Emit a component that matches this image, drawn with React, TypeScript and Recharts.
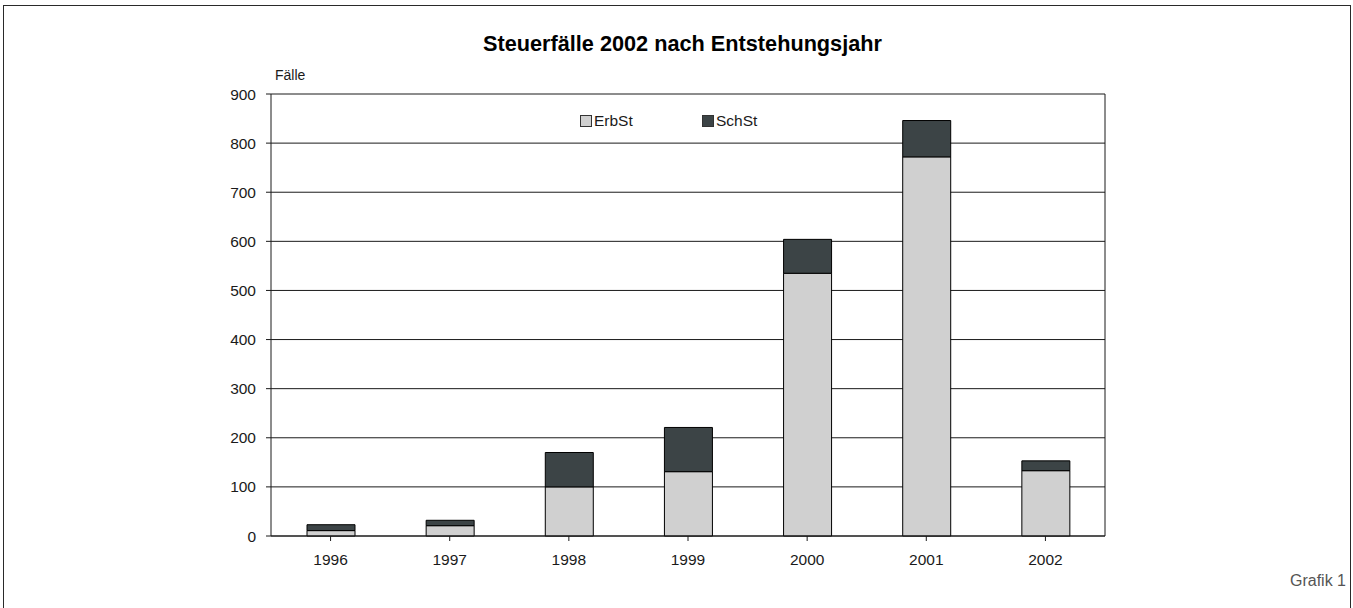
import { Bar, BarChart, CartesianGrid, XAxis, YAxis } from "recharts";

const years = ["1996", "1997", "1998", "1999", "2000", "2001", "2002"];
const erbSt = [11, 21, 100, 131, 535, 772, 133];
const schSt = [12, 11, 70, 90, 69, 74, 20];
const yTicks = [0, 100, 200, 300, 400, 500, 600, 700, 800, 900];

const INK = "#1a1a1a";
const FONT = "'Liberation Sans', Arial, sans-serif";
const ERB = "#d0d0d0";
const SCH = "#3c4446";

const data = years.map((year, i) => ({ year, ErbSt: erbSt[i], SchSt: schSt[i] }));

const legendItems = [
  { label: "ErbSt", color: ERB, left: 580 },
  { label: "SchSt", color: SCH, left: 702 },
];

export default function App() {
  return (
    <div
      style={{
        position: "fixed",
        left: 0,
        top: 0,
        width: 1353,
        height: 608,
        overflow: "hidden",
        background: "#fff",
        fontFamily: FONT,
      }}
    >
      {/* outer frame, bottom edge runs off the page */}
      <div
        style={{
          position: "absolute",
          left: 3,
          top: 5,
          width: 1346,
          height: 700,
          border: "1px solid #2a2a2a",
        }}
      />

      <div style={{ position: "absolute", left: 0, top: 0 }}>
        <BarChart
          width={1353}
          height={608}
          data={data}
          margin={{ top: 94, right: 247, bottom: 42, left: 211 }}
          barSize={48}
        >
          <CartesianGrid vertical={false} stroke={INK} />
          <XAxis
            dataKey="year"
            axisLine={{ stroke: INK }}
            tickLine={{ stroke: INK }}
            tickSize={5}
            tickMargin={13}
            height={30}
            interval={0}
            tick={{ fill: INK, fontSize: 15.5, fontFamily: FONT }}
          />
          <YAxis
            domain={[0, 900]}
            ticks={yTicks}
            width={60}
            axisLine={{ stroke: INK }}
            tickLine={{ stroke: INK }}
            tickSize={5}
            tickMargin={10}
            tick={{ fill: INK, fontSize: 15.5, fontFamily: FONT }}
          />
          <YAxis
            yAxisId="frame"
            orientation="right"
            domain={[0, 900]}
            width={1}
            tick={false}
            tickLine={false}
            axisLine={{ stroke: INK }}
          />
          <Bar dataKey="ErbSt" stackId="a" fill={ERB} stroke="#000" strokeWidth={1} isAnimationActive={false} />
          <Bar dataKey="SchSt" stackId="a" fill={SCH} stroke="#000" strokeWidth={1} isAnimationActive={false} />
        </BarChart>
      </div>

      <div
        style={{
          position: "absolute",
          left: 0,
          width: 1365,
          top: 31,
          textAlign: "center",
          fontSize: 21.7,
          fontWeight: "bold",
          color: "#000",
          whiteSpace: "nowrap",
        }}
      >
        Steuerfälle 2002 nach Entstehungsjahr
      </div>
      <div style={{ position: "absolute", left: 275, top: 67, fontSize: 14, color: INK }}>Fälle</div>

      {legendItems.map((it) => (
        <div
          key={it.label}
          style={{
            position: "absolute",
            left: it.left,
            top: 112,
            display: "flex",
            alignItems: "center",
            fontSize: 15.5,
            color: INK,
          }}
        >
          <span
            style={{
              display: "inline-block",
              width: 10,
              height: 10,
              background: it.color,
              border: "1px solid #333",
              marginRight: 2,
            }}
          />
          {it.label}
        </div>
      ))}

      <div style={{ position: "absolute", left: 1290, top: 572, fontSize: 16, color: "#555" }}>Grafik 1</div>
    </div>
  );
}
